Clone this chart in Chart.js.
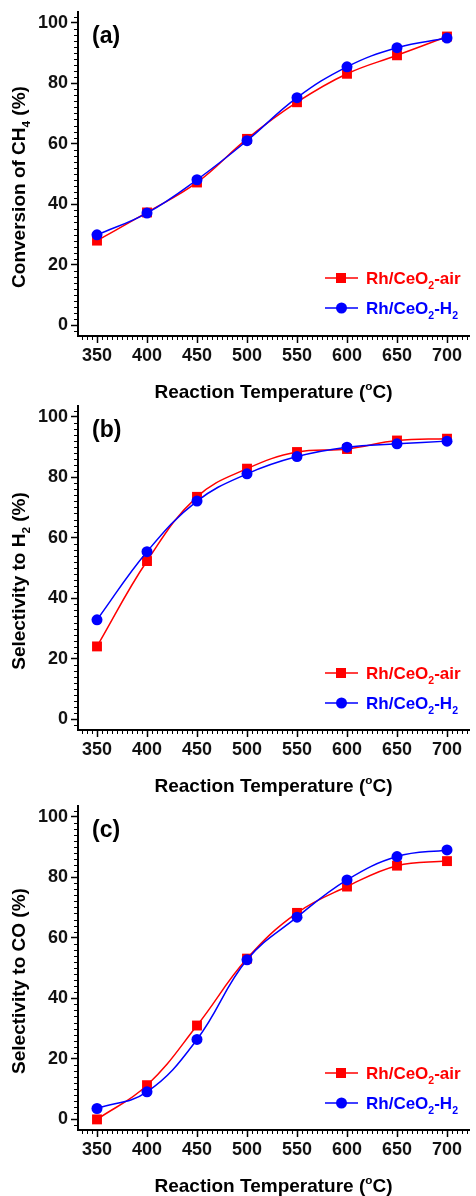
<!DOCTYPE html>
<html>
<head>
<meta charset="utf-8">
<title>Rh/CeO2 activity</title>
<script src="https://cdn.jsdelivr.net/npm/chart.js@4/dist/chart.umd.min.js"></script>
<style>
  html, body { margin: 0; padding: 0; background: #fff; }
  #wrap { position: relative; width: 476px; height: 1196px; overflow: hidden; }
  #wrap canvas { position: absolute; left: 0; }
</style>
</head>
<body>
<div id="wrap">
  <canvas id="panelA" width="476" height="410" style="top:-3px"></canvas>
  <canvas id="panelB" width="476" height="410" style="top:391px"></canvas>
  <canvas id="panelC" width="476" height="410" style="top:791px"></canvas>
</div>
<script>
// reaction temperatures (°C)
const temps = [350, 400, 450, 500, 550, 600, 650, 700];

// CH4 conversion (%)
const convAir = [28.0, 37.3, 47.2, 61.6, 73.7, 83.1, 89.2, 95.4];
const convH2  = [29.9, 37.1, 48.1, 61.0, 75.2, 85.4, 91.7, 94.9];

// H2 selectivity (%)
const selH2Air = [24.1, 52.3, 73.5, 82.8, 88.3, 89.3, 92.1, 92.7];
const selH2H2  = [32.9, 55.4, 72.1, 81.1, 86.8, 89.9, 91.0, 91.9];

// CO selectivity (%)
const selCoAir = [0.0, 11.3, 31.0, 53.1, 68.2, 76.9, 83.8, 85.3];
const selCoH2  = [3.6,  9.1, 26.4, 52.7, 66.8, 79.1, 86.8, 89.0];

const xMajorStep = 50, xMinorStep = 5;
const yMajorStep = 20, yMinorStep = 2;

const RED = '#ff0000';
const BLUE = '#0000ff';
const FONT = "'Liberation Sans', Arial, sans-serif";

// text pieces: {t, sub} or {t, sup}
function richWidth(ctx, parts, size) {
  let w = 0;
  parts.forEach(p => {
    const s = (p.sub || p.sup) ? size * 0.62 : size;
    ctx.font = `bold ${s}px ${FONT}`;
    w += ctx.measureText(p.t).width;
  });
  return w;
}

function drawRich(ctx, parts, x, y, size, color) {
  ctx.fillStyle = color;
  ctx.textBaseline = 'alphabetic';
  ctx.textAlign = 'left';
  parts.forEach(p => {
    const s = (p.sub || p.sup) ? size * 0.62 : size;
    ctx.font = `bold ${s}px ${FONT}`;
    let dy = 0;
    if (p.sub) dy = size * 0.28;
    if (p.sup) dy = -size * 0.42;
    ctx.fillText(p.t, x, y + dy);
    x += ctx.measureText(p.t).width;
  });
}

const legendParts = [
  [{t: 'Rh/CeO'}, {t: '2', sub: true}, {t: '-air'}],
  [{t: 'Rh/CeO'}, {t: '2', sub: true}, {t: '-H'}, {t: '2', sub: true}]
];
const xTitle = [{t: 'Reaction Temperature ('}, {t: 'o', sup: true}, {t: 'C)'}];

// titles, panel letter, legend and minor ticks
const decorPlugin = {
  id: 'decor',
  afterDraw(chart, args, opts) {
    const ctx = chart.ctx;
    const area = chart.chartArea;
    const xs = chart.scales.x, ys = chart.scales.y;
    ctx.save();

    // minor ticks
    ctx.strokeStyle = '#000';
    ctx.lineWidth = 1;
    ctx.beginPath();
    for (let v = Math.ceil(xs.min / xMinorStep) * xMinorStep; v <= xs.max; v += xMinorStep) {
      if (v % xMajorStep === 0) continue;
      const px = Math.round(xs.getPixelForValue(v)) + 0.5;
      ctx.moveTo(px, area.bottom);
      ctx.lineTo(px, area.bottom + 4);
    }
    for (let v = Math.ceil(ys.min / yMinorStep) * yMinorStep; v <= ys.max; v += yMinorStep) {
      if (v % yMajorStep === 0) continue;
      const py = Math.round(ys.getPixelForValue(v)) + 0.5;
      ctx.moveTo(area.left, py);
      ctx.lineTo(area.left - 4, py);
    }
    ctx.stroke();

    // panel letter
    ctx.fillStyle = '#000';
    ctx.font = `bold 23px ${FONT}`;
    ctx.textAlign = 'left';
    ctx.textBaseline = 'alphabetic';
    ctx.fillText(opts.letter, 92, 46);

    // y title, rotated
    const yw = richWidth(ctx, opts.yTitle, 19);
    ctx.save();
    ctx.translate(25, 190);
    ctx.rotate(-Math.PI / 2);
    drawRich(ctx, opts.yTitle, -yw / 2, 0, 19, '#000');
    ctx.restore();

    // x title
    const xw = richWidth(ctx, xTitle, 19);
    drawRich(ctx, xTitle, (area.left + area.right) / 2 - xw / 2, 401, 19, '#000');

    // legend
    chart.data.datasets.forEach((ds, i) => {
      const y = opts.legendY + i * 30;
      ctx.strokeStyle = ds.borderColor;
      ctx.lineWidth = 1.5;
      ctx.beginPath();
      ctx.moveTo(325, y);
      ctx.lineTo(358, y);
      ctx.stroke();
      ctx.fillStyle = ds.borderColor;
      ctx.beginPath();
      if (ds.pointStyle === 'rect') ctx.rect(336, y - 5, 10, 10);
      else ctx.arc(341.5, y, 5.5, 0, Math.PI * 2);
      ctx.fill();
      drawRich(ctx, legendParts[i], 366, y + 6, 17, ds.borderColor);
    });

    ctx.restore();
  }
};

function makePanel(id, letter, yTitle, airVals, h2Vals, legendY) {
  return new Chart(document.getElementById(id), {
    type: 'line',
    data: {
      labels: temps,
      datasets: [
        {
          label: 'Rh/CeO2-air',
          data: temps.map((t, i) => ({x: t, y: airVals[i]})),
          borderColor: RED, backgroundColor: RED,
          borderWidth: 1.5, tension: 0.4,
          pointStyle: 'rect', pointRadius: 7, pointBorderWidth: 0,
          order: 1
        },
        {
          label: 'Rh/CeO2-H2',
          data: temps.map((t, i) => ({x: t, y: h2Vals[i]})),
          borderColor: BLUE, backgroundColor: BLUE,
          borderWidth: 1.5, tension: 0.4,
          pointStyle: 'circle', pointRadius: 5.5, pointBorderWidth: 0,
          order: 0
        }
      ]
    },
    options: {
      responsive: false,
      animation: false,
      events: [],
      layout: { padding: { top: 15, left: 0, right: 0, bottom: 0 } },
      plugins: {
        legend: { display: false },
        tooltip: { enabled: false },
        decor: { letter: letter, yTitle: yTitle, legendY: legendY }
      },
      scales: {
        x: {
          type: 'linear',
          min: 331, max: 722,
          afterFit: s => { s.height = 71; },
          border: { display: true, color: '#000', width: 2 },
          grid: { drawOnChartArea: false, tickLength: 7, tickColor: '#000', tickWidth: 1.5 },
          ticks: {
            stepSize: xMajorStep, includeBounds: false, padding: 2,
            color: '#111', font: { family: FONT, size: 18, weight: 'bold' }
          }
        },
        y: {
          min: -3.5, max: 103.5,
          afterFit: s => { s.width = 78; },
          border: { display: true, color: '#000', width: 2 },
          grid: { drawOnChartArea: false, tickLength: 7, tickColor: '#000', tickWidth: 1.5 },
          ticks: {
            stepSize: yMajorStep, includeBounds: false, padding: 3,
            color: '#111', font: { family: FONT, size: 18, weight: 'bold' }
          }
        }
      }
    },
    plugins: [decorPlugin]
  });
}

makePanel('panelA', '(a)', [{t: 'Conversion of CH'}, {t: '4', sub: true}, {t: ' (%)'}], convAir, convH2, 281);
makePanel('panelB', '(b)', [{t: 'Selectivity to H'}, {t: '2', sub: true}, {t: ' (%)'}], selH2Air, selH2H2, 282);
makePanel('panelC', '(c)', [{t: 'Selectivity to CO (%)'}], selCoAir, selCoH2, 282);
</script>
</body>
</html>
